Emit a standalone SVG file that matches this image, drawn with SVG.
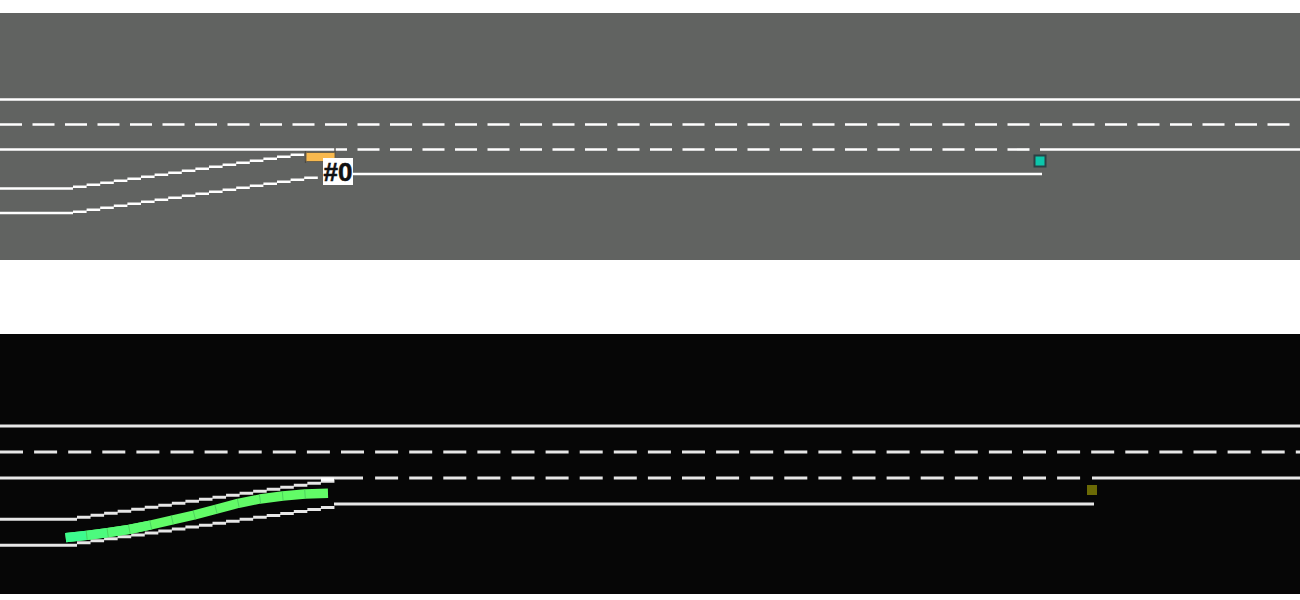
<svg xmlns="http://www.w3.org/2000/svg" width="1300" height="600" viewBox="0 0 1300 600">
<style>
.l{fill:none;stroke:#fff;stroke-width:2.6}
.b{fill:none;stroke:#e6e6e6;stroke-width:3}
.d1{stroke-dasharray:22 10.5}
.d2{stroke-dasharray:23 11.1}
.seg{fill:none;stroke-width:9.400}
.tick{fill:none;stroke:#46c85a;stroke-width:.8}
</style>
<rect width="1300" height="600" fill="#fff"/>
<g id="top-road">
<rect x="0" y="13" width="1300" height="247" fill="#616361"/>
<path class="l" d="M0 99.5H1300M0 149.5H347M1040 149.5H1300M353 174H1042M0 188.5H73M0 213H73"/>
<path class="l d1" d="M0 124.5H1290"/>
<path class="l d1" d="M357.5 149.5H1030"/>
<path class="l" d="M73 186.7h13.6m0-2h13.6m0-2h13.6m0-2h13.6m0-2h13.6m0-2h13.6m0-2h13.6m0-2h13.6m0-2h13.6m0-2h13.6m0-2h13.6m0-2h13.6m0-2h13.6m0-2h13.6m0-2h13.6m0-2h13.6m0-2h13.6"/>
<path class="l" d="M73 211.7h13.6m0-2h13.6m0-2h13.6m0-2h13.6m0-2h13.6m0-2h13.6m0-2h13.6m0-2h13.6m0-2h13.6m0-2h13.6m0-2h13.6m0-2h13.6m0-2h13.6m0-2h13.6m0-2h13.6m0-2h13.6m0-2h13.6m0-2h13.6"/>
</g>
<g id="vehicle-0">
<path d="M305.500 151V163M335 148V157" fill="none" stroke="#4d4a42" stroke-width="1.300"/>
<rect x="306" y="152.500" width="29" height="9" rx="1" fill="#f8b94e" stroke="#6e624a" stroke-width="1"/>
<rect x="323" y="158" width="30" height="27" fill="#fff"/>
<text x="338" y="180.500" text-anchor="middle" font-family="'Liberation Sans',Arial,sans-serif" font-weight="700" font-size="26" fill="#111" stroke="#111" stroke-width=".5">#0</text>
</g>
<g id="goal-top">
<rect x="1034.500" y="155.500" width="11" height="11" fill="#0cc6ab" stroke="#2b4044" stroke-width="2"/>
</g>
<g id="bottom-road">
<rect x="0" y="334" width="1300" height="260" fill="#060606"/>
<path class="b" d="M0 426H1300M0 478H363M1092 478H1300M334 504H1094M0 519.300H77M0 545.300H77"/>
<path class="b d2" d="M0 452H1300"/>
<path class="b d2" d="M375.100 478H1081"/>
<path class="b" d="M77 517.300h13.550m0-2h13.550m0-2h13.550m0-2h13.550m0-2h13.550m0-2h13.550m0-2h13.550m0-2h13.550m0-2h13.550m0-2h13.550m0-2h13.550m0-2h13.550m0-2h13.550m0-2h13.550m0-2h13.550m0-2h13.550m0-2h13.550m0-2h13.550m0-2h13.550"/>
<path class="b" d="M77 542.700h13.550m0-1.950h13.550m0-1.950h13.550m0-1.950h13.550m0-1.950h13.550m0-1.950h13.550m0-1.950h13.550m0-1.950h13.550m0-1.950h13.550m0-1.950h13.550m0-1.950h13.550m0-1.950h13.550m0-1.950h13.550m0-1.950h13.550m0-1.950h13.550m0-1.950h13.550m0-1.950h13.550m0-1.950h13.550m0-1.950h13.550"/>
<path d="M334 479.300H321" stroke="#fff" stroke-width="3" fill="none"/>
</g>
<g id="trajectory">
<path class="seg" stroke="#62fb67" stroke-linejoin="round" d="M65.700 537.700L86.700 535.300L107.700 532.700L129.300 529.300L150.700 525L172.300 520L194.300 515L216 509.300L238.300 503.300L260 499L282.700 496L305 494L328 493.300"/>
<path class="seg" stroke="#3dfb8e" d="M65.700 537.700L86.700 535.300"/>
<path class="seg" stroke="#4cfb7e" d="M86.700 535.300L107.700 532.700"/>
<path class="seg" stroke="#55fb75" d="M107.700 532.700L129.300 529.300"/>
<path class="seg" stroke="#5bfb70" d="M129.300 529.300L150.700 525"/>
<path class="tick" d="M86.200 531L87.200 539.700M107.100 528.400L108.300 537M128.500 525L130.200 533.600M149.800 520.700L151.700 529.300M171.300 515.700L173.300 524.300M193.200 510.700L195.400 519.300M214.900 505L217.100 513.600M237.400 499L239.200 507.600M259.400 494.700L260.600 503.300M282.300 491.700L283.100 500.300M304.700 489.700L305.300 498.300"/>
</g>
<g id="goal-bottom">
<rect x="1087" y="485" width="10" height="10" fill="#6b6a05"/>
</g>
</svg>
